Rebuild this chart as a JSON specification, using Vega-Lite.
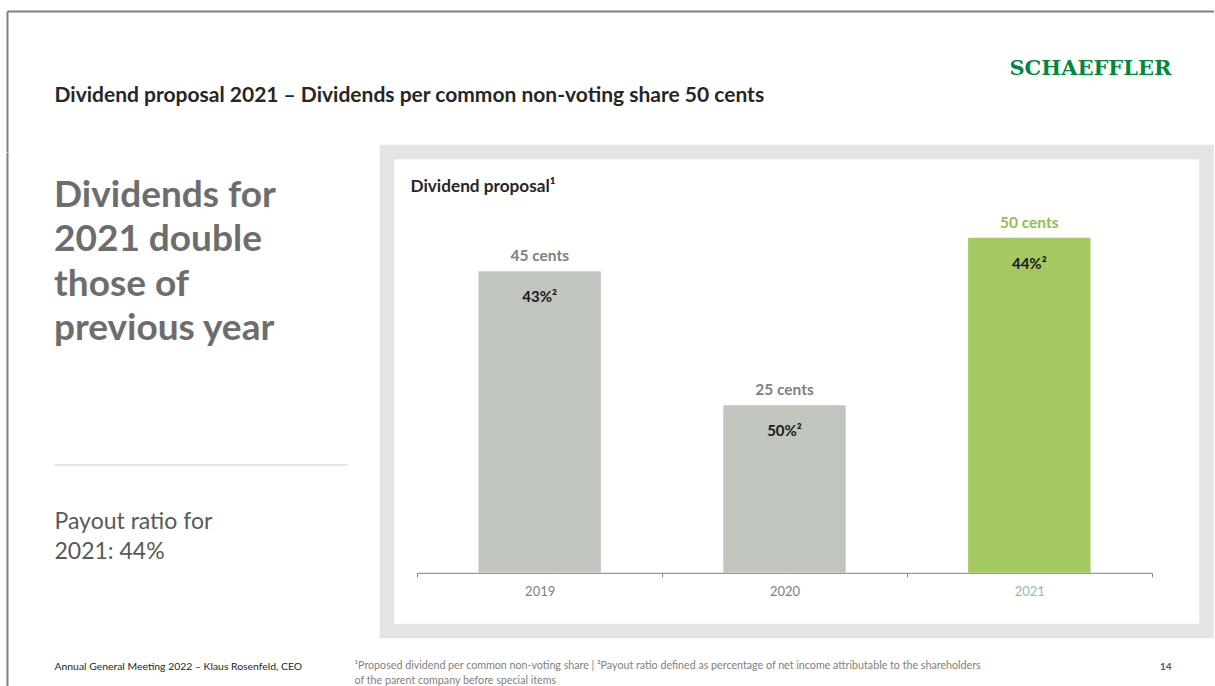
{
  "$schema": "https://vega.github.io/schema/vega-lite/v6.json",
  "padding": {"left": 7, "top": 11, "right": 0, "bottom": 0},
  "background": "white",
  "bounds": "flush",
  "spacing": 0,
  "config": {
    "view": {"stroke": null},
    "font": "Lato",
    "axis": {"grid": false, "ticks": false, "labels": false, "domain": false}
  },
  "vconcat": [
    {
      "width": 1207,
      "height": 140.5,
      "data": {"values": []},
      "mark": {"type": "rule"},
      "encoding": {
        "x": {
          "datum": 0,
          "type": "quantitative",
          "scale": {"domain": [0, 1]},
          "axis": {
            "orient": "top",
            "domain": true,
            "domainColor": "#7f7f7f",
            "domainWidth": 2,
            "title": "Dividend proposal 2021 – Dividends per common non-voting share 50 cents",
            "titleX": 47,
            "titleY": 90,
            "titleAlign": "left",
            "titleBaseline": "alphabetic",
            "titleFontSize": 21,
            "titleFontWeight": "bold",
            "titleColor": "#262626"
          }
        },
        "y": {
          "datum": 0,
          "type": "quantitative",
          "scale": {"domain": [0, 1]},
          "axis": {
            "orient": "left",
            "domain": true,
            "domainColor": "#7f7f7f",
            "domainWidth": 2,
            "title": "SCHAEFFLER",
            "titleAngle": 0,
            "titleX": 1164,
            "titleY": 63.5,
            "titleAlign": "right",
            "titleBaseline": "alphabetic",
            "titleFont": "DejaVu Serif",
            "titleFontSize": 21,
            "titleFontWeight": "bold",
            "titleColor": "#00893d"
          }
        }
      }
    },
    {
      "bounds": "flush",
      "spacing": 40,
      "hconcat": [
        {
          "width": 340,
          "height": 533.5,
          "data": {"values": [{"headline": "Dividends for\n2021 double\nthose of\nprevious year"}]},
          "mark": {
            "type": "text",
            "align": "left",
            "baseline": "alphabetic",
            "lineBreak": "\n",
            "lineHeight": 44.5,
            "fontSize": 37,
            "fontWeight": "bold",
            "color": "#6d6d6d",
            "dy": 54.5
          },
          "encoding": {
            "text": {"field": "headline"},
            "x": {
              "datum": 0,
              "type": "quantitative",
              "scale": {"domain": [0, 1], "range": [47, 340]},
              "axis": {
                "orient": "bottom",
                "offset": -221,
                "domain": true,
                "domainColor": "#c9c9c9",
                "domainWidth": 1,
                "title": ["Payout ratio for", "2021: 44%"],
                "titleX": 47,
                "titleY": 64,
                "titleAlign": "left",
                "titleBaseline": "alphabetic",
                "titleFontSize": 23,
                "titleFontWeight": "normal",
                "titleColor": "#595959",
                "titleLineHeight": 30
              }
            },
            "y": {
              "datum": 1,
              "type": "quantitative",
              "scale": {"domain": [0, 1]},
              "axis": {
                "orient": "left",
                "domain": true,
                "domainColor": "#7f7f7f",
                "domainWidth": 2,
                "title": "Annual General Meeting 2022 – Klaus Rosenfeld, CEO",
                "titleAngle": 0,
                "titleX": 47,
                "titleY": 517,
                "titleAlign": "left",
                "titleBaseline": "alphabetic",
                "titleFontSize": 10.4,
                "titleFontWeight": "normal",
                "titleColor": "#262626"
              }
            }
          }
        },
        {
          "width": 819.5,
          "height": 479,
          "view": {"stroke": "#e4e4e4", "strokeWidth": 14.5, "fill": "white"},
          "data": {
            "values": [
              {"year": "2019", "cents": 45, "label": "45 cents", "ratio": "43%²"},
              {"year": "2020", "cents": 25, "label": "25 cents", "ratio": "50%²"},
              {"year": "2021", "cents": 50, "label": "50 cents", "ratio": "44%²"}
            ]
          },
          "encoding": {
            "x": {
              "field": "year",
              "type": "nominal",
              "scale": {"range": [30.3, 764.7], "paddingInner": 0, "paddingOuter": 0},
              "axis": {
                "orient": "bottom",
                "offset": -58.2,
                "domain": true,
                "domainColor": "#808080",
                "ticks": true,
                "tickSize": 4,
                "tickColor": "#808080",
                "tickBand": "extent",
                "labels": true,
                "labelAngle": 0,
                "labelFontSize": 13,
                "labelPadding": 9,
                "labelColor": {"condition": {"test": "datum.value == '2021'", "value": "#8fbca6"}, "value": "#808080"},
                "title": ["¹Proposed dividend per common non-voting share | ²Payout ratio defined as percentage of net income attributable to the shareholders", "of the parent company before special items"],
                "titleX": -33,
                "titleY": 95.5,
                "titleAlign": "left",
                "titleBaseline": "alphabetic",
                "titleFontSize": 10.7,
                "titleFontWeight": "normal",
                "titleColor": "#808080",
                "titleLineHeight": 15
              }
            }
          },
          "layer": [
            {
              "mark": {"type": "bar", "width": {"band": 0.5}},
              "encoding": {
                "y": {
                  "field": "cents",
                  "type": "quantitative",
                  "scale": {"domain": [0, 50], "range": [420.8, 85.8], "nice": false},
                  "axis": {
                    "orient": "left",
                    "title": "Dividend proposal¹",
                    "titleAngle": 0,
                    "titleX": 23,
                    "titleY": 39.5,
                    "titleAlign": "left",
                    "titleBaseline": "alphabetic",
                    "titleFontSize": 17.2,
                    "titleFontWeight": "bold",
                    "titleColor": "#262626"
                  }
                },
                "color": {"condition": {"test": "datum.year == '2021'", "value": "#a4c962"}, "value": "#c0c5be"}
              }
            },
            {
              "mark": {"type": "text", "fontSize": 15.5, "fontWeight": "bold", "baseline": "alphabetic", "dy": -10},
              "encoding": {
                "y": {
                  "field": "cents",
                  "type": "quantitative",
                  "scale": {"domain": [0, 50], "range": [420.8, 85.8], "nice": false},
                  "axis": {
                    "orient": "right",
                    "title": "14",
                    "titleAngle": 0,
                    "titleX": -35.5,
                    "titleY": 517.5,
                    "titleAlign": "right",
                    "titleBaseline": "alphabetic",
                    "titleFontSize": 10,
                    "titleFontWeight": "bold",
                    "titleColor": "#595959"
                  }
                },
                "text": {"field": "label"},
                "color": {"condition": {"test": "datum.year == '2021'", "value": "#8fbf4f"}, "value": "#808080"}
              }
            },
            {
              "mark": {"type": "text", "fontSize": 15, "fontWeight": "bold", "baseline": "alphabetic", "dy": 31, "color": "#1a1a1a"},
              "encoding": {
                "y": {
                  "field": "cents",
                  "type": "quantitative",
                  "scale": {"domain": [0, 50], "range": [420.8, 85.8], "nice": false},
                  "axis": null
                },
                "text": {"field": "ratio"}
              }
            }
          ],
          "resolve": {"axis": {"y": "independent"}}
        }
      ]
    }
  ]
}
